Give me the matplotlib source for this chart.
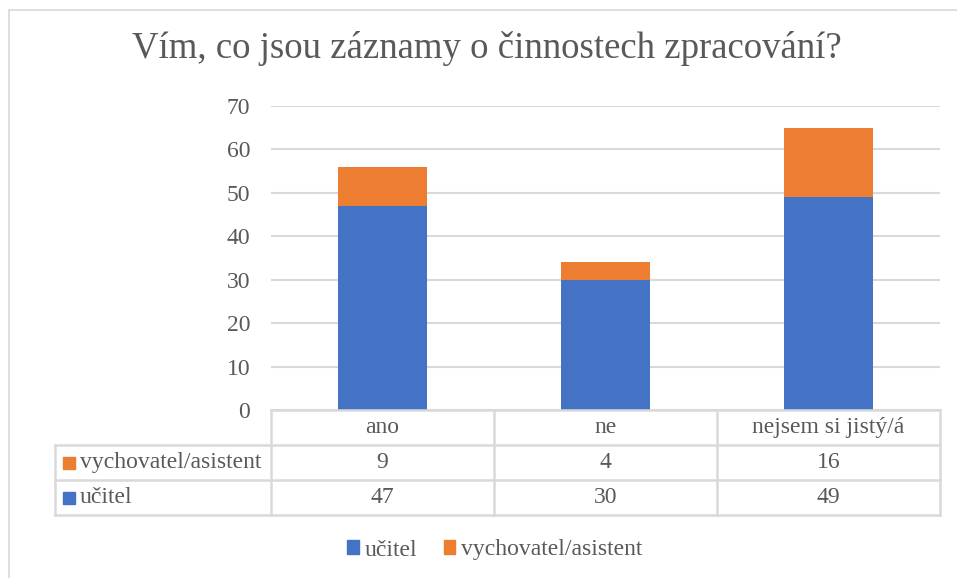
import matplotlib
matplotlib.use("Agg")
import matplotlib.pyplot as plt
from matplotlib.patches import Rectangle
from matplotlib.lines import Line2D

categories = ["ano", "ne", "nejsem si jistý/á"]
ucitel = [47, 30, 49]
vychovatel = [9, 4, 16]
series_names = ["učitel", "vychovatel/asistent"]
yticks = [0, 10, 20, 30, 40, 50, 60, 70]
title = "Vím, co jsou záznamy o činnostech zpracování?"

BLUE = "#4472C4"
ORANGE = "#ED7D31"
TXT = "#595959"
GRID = "#D9D9D9"

plt.rcParams['font.family'] = ['Liberation Serif', 'DejaVu Serif']

W, H = 957, 578
fig = plt.figure(figsize=(W / 100, H / 100), dpi=100)

def fx(px):
    return px / W

def fy(py):
    return 1 - py / H

# chart border
fig.add_artist(Line2D([fx(9), fx(957)], [fy(10), fy(10)], color="#D9D9D9", lw=1.2))
fig.add_artist(Line2D([fx(9), fx(9)], [fy(10), fy(578)], color="#D9D9D9", lw=1.2))

ax_l, ax_r, ax_t, ax_b = 271, 940, 106, 410
ax = fig.add_axes([fx(ax_l), fy(ax_b), fx(ax_r - ax_l), (ax_b - ax_t) / H])
x = list(range(len(categories)))
ax.bar(x, ucitel, width=0.4, color=BLUE, zorder=3)
ax.bar(x, vychovatel, width=0.4, bottom=ucitel, color=ORANGE, zorder=3)
ax.set_xlim(-0.5, len(categories) - 0.5)
ax.set_ylim(0, 70)
ax.set_yticks(yticks)
ax.set_yticklabels([str(v) for v in yticks], fontsize=17, color=TXT)
ax.tick_params(axis='y', length=0, pad=15)
ax.set_xticks([])
for s in ax.spines.values():
    s.set_visible(False)
ax.grid(axis='y', color=GRID, lw=1.5, zorder=0)
ax.set_axisbelow(True)

fig.text(fx(487), fy(49), title, fontsize=26.5, color=TXT, ha='center', va='center')

# data table
rows_y = [410, 445, 480, 515]
lc = "#D9D9D9"
lw = 1.8
colw = (ax_r - ax_l) / len(categories)
col_x = [ax_l + i * colw for i in range(len(categories) + 1)]
fig.add_artist(Line2D([fx(ax_l), fx(ax_r)], [fy(410), fy(410)], color=lc, lw=lw))
for yy in rows_y[1:]:
    fig.add_artist(Line2D([fx(55), fx(ax_r)], [fy(yy), fy(yy)], color=lc, lw=lw))
fig.add_artist(Line2D([fx(55), fx(55)], [fy(445), fy(515)], color=lc, lw=lw))
for cx in col_x:
    fig.add_artist(Line2D([fx(cx), fx(cx)], [fy(410), fy(515)], color=lc, lw=lw))

for i, c in enumerate(categories):
    cx = (col_x[i] + col_x[i + 1]) / 2
    fig.text(fx(cx), fy(427.5), c, fontsize=17, color=TXT, ha='center', va='center')
    fig.text(fx(cx), fy(462.5), str(vychovatel[i]), fontsize=17, color=TXT, ha='center', va='center')
    fig.text(fx(cx), fy(497.5), str(ucitel[i]), fontsize=17, color=TXT, ha='center', va='center')

for yy, name, col in [(462.5, series_names[1], ORANGE), (497.5, series_names[0], BLUE)]:
    fig.add_artist(Rectangle((fx(63), fy(yy + 6)), fx(12), 12 / H, color=col))
    fig.text(fx(80), fy(yy), name, fontsize=17, color=TXT, ha='left', va='center')

# legend
handles = [Rectangle((0, 0), 1, 1, color=BLUE), Rectangle((0, 0), 1, 1, color=ORANGE)]
fig.legend(handles, series_names, loc='center', bbox_to_anchor=(fx(495), fy(550)),
           ncol=2, frameon=False, fontsize=17, labelcolor=TXT,
           handlelength=0.5, handleheight=0.5, handletextpad=0.25, columnspacing=1.1)

fig.savefig("out.png", dpi=100)
